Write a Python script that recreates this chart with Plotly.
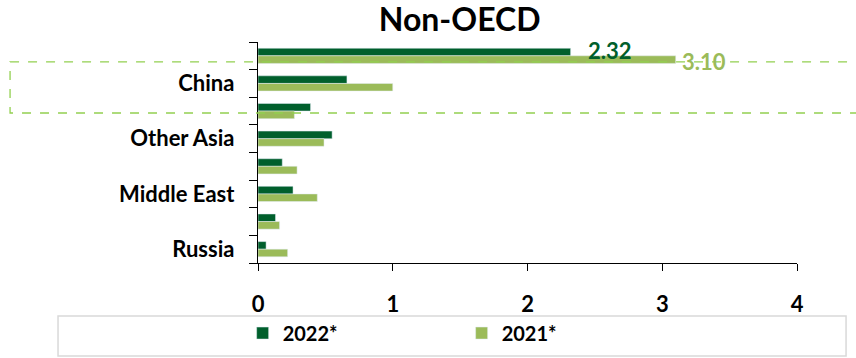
import plotly.graph_objects as go

# Oil demand growth by region, mb/d
regions = ["Non-OECD", "China", "India", "Other Asia",
           "Latin America", "Middle East", "Africa", "Russia"]
labelled = ["China", "Other Asia", "Middle East", "Russia"]
growth_2022 = [2.32, 0.66, 0.39, 0.55, 0.18, 0.26, 0.13, 0.06]
growth_2021 = [3.10, 1.00, 0.27, 0.49, 0.29, 0.44, 0.16, 0.22]
series_names = ["2022*", "2021*"]
x_ticks = [0, 1, 2, 3, 4]

DARK = "#005F2C"
LIGHT = "#9BBB59"
FONT = "Lato"

fig = go.Figure()
fig.add_trace(go.Bar(y=regions, x=growth_2022, orientation="h",
                     name=series_names[0], marker_color=DARK))
fig.add_trace(go.Bar(y=regions, x=growth_2021, orientation="h",
                     name=series_names[1], marker_color=LIGHT))

# value labels on the total row
fig.add_annotation(x=growth_2022[0], y=regions[0], text=f"<b>{growth_2022[0]:.2f}</b>",
                   showarrow=False, xanchor="left", xshift=15, yshift=5,
                   font=dict(family=FONT, size=22, color=DARK))
fig.add_annotation(x=growth_2021[0], y=regions[0], text=f"<b>{growth_2021[0]:.2f}</b>",
                   showarrow=False, xanchor="left", xshift=4, yshift=-6,
                   font=dict(family=FONT, size=22, color=LIGHT))

# dashed highlight around the China row
fig.add_shape(type="rect", xref="paper", yref="y",
              x0=-0.46, x1=1.115, y0=0.22, y1=2.07,
              line=dict(color="#92D050", width=1.3, dash="dash"),
              fillcolor="rgba(0,0,0,0)", layer="above")

# legend frame
fig.add_shape(type="rect", xref="paper", yref="paper",
              x0=-0.371, x1=1.091, y0=-0.421, y1=-0.240,
              line=dict(color="#D9D9D9", width=1.5),
              fillcolor="rgba(0,0,0,0)")

n = len(regions)
fig.update_layout(
    width=856, height=358,
    margin=dict(l=258, r=59, t=42, b=95, autoexpand=False),
    plot_bgcolor="white", paper_bgcolor="white",
    barmode="group", bargap=0.45, bargroupgap=0,
    font=dict(family=FONT, color="black"),
    title=dict(text="<b>Non-OECD</b>", x=0.537, xref="container", xanchor="center",
               y=0.945, yref="container", yanchor="middle",
               font=dict(family=FONT, size=32, color="black")),
    showlegend=True,
    legend=dict(orientation="h", x=-0.0285, y=-0.317, xref="paper", yref="paper",
                xanchor="left", yanchor="middle",
                entrywidth=174, entrywidthmode="pixels",
                font=dict(family=FONT, size=20, color="black", weight="bold"),
                itemclick=False, bgcolor="rgba(0,0,0,0)"),
    xaxis=dict(range=[0, 4], tickvals=x_ticks, showgrid=False, zeroline=False,
               automargin=False,
               showline=True, linecolor="black", linewidth=1.3,
               ticks="outside", ticklen=7, tickcolor="black", tickwidth=1.3,
               ticklabelstandoff=14,
               tickfont=dict(family=FONT, size=22, color="black", weight="bold")),
    yaxis=dict(categoryorder="array", categoryarray=regions,
               range=[n - 0.5, -0.5], automargin=False,
               tickvals=regions, ticktext=[r if r in labelled else "" for r in regions],
               tickson="boundaries", ticks="outside", ticklen=8,
               tickcolor="black", tickwidth=1.3,
               showline=True, linecolor="black", linewidth=1.3, showgrid=False,
               ticklabelstandoff=18,
               tickfont=dict(family=FONT, size=22, color="black", weight="bold")),
)

fig.write_html("out.html")
